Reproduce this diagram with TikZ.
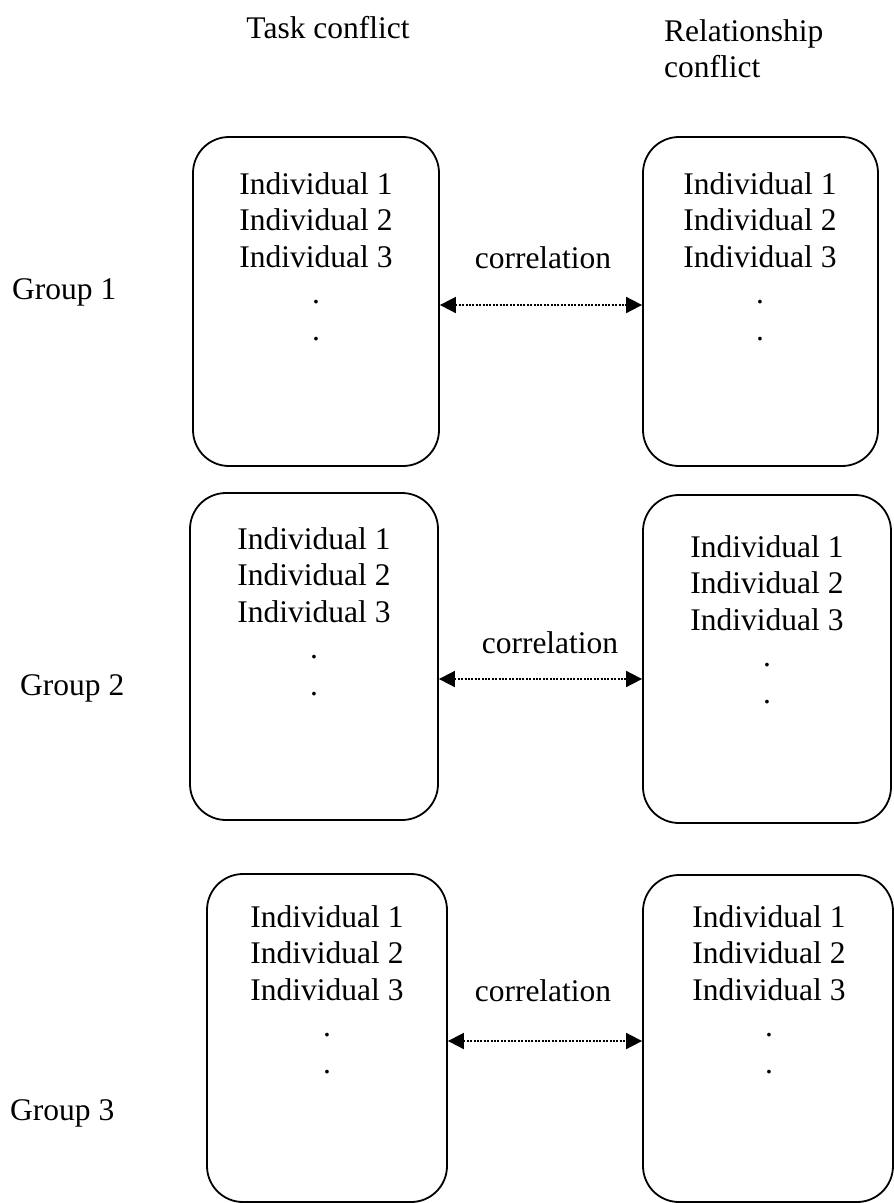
\documentclass[tikz,border=0pt]{standalone}
\usepackage{fontspec}
\setmainfont{Liberation Serif}
\usetikzlibrary{arrows.meta}
\begin{document}
\begin{tikzpicture}[x=1pt,y=-1pt,
  box/.style={draw, line width=1.8pt, rounded corners=36pt, inner sep=0pt},
  txt/.style={anchor=base, inner sep=0pt, font=\fontsize{31.5}{36.5}\selectfont},
  txtw/.style={txt, anchor=base west},
  corr/.style={{Triangle[length=16pt,width=16pt]}-{Triangle[length=16pt,width=16pt]},
    line width=1.8pt, dash pattern=on 2pt off 1.4pt}]
\useasboundingbox (0,0) rectangle (894,1203);

% column headings
\node[txt] (task) at (328,38) {Task conflict};
\node[txtw] (rel1) at (664,41) {Relationship};
\node[txtw] (rel2) at (664,77.5) {conflict};

% group labels
\node[txtw] (g1) at (12,299) {Group 1};
\node[txtw] (g2) at (20,695) {Group 2};
\node[txtw] (g3) at (10,1120) {Group 3};

% boxes
\node[box, minimum width=246pt, minimum height=329pt] (L1) at (316,301.5) {};
\node[box, minimum width=235pt, minimum height=329pt] (R1) at (760.5,301.5) {};
\node[box, minimum width=248pt, minimum height=327pt] (L2) at (314,656.5) {};
\node[box, minimum width=248pt, minimum height=328pt] (R2) at (767,659) {};
\node[box, minimum width=240pt, minimum height=328pt] (L3) at (327,1038) {};
\node[box, minimum width=250pt, minimum height=327pt] (R3) at (768,1038.5) {};

% box contents
\foreach \n/\cx/\by in {L1/316/194, R1/760/194, L2/314/549, R2/767/557, L3/327/927, R3/769/927} {
  \node[txt] (\n-1) at (\cx,\by) {Individual 1};
  \node[txt] (\n-2) at (\cx,\by+36.5) {Individual 2};
  \node[txt] (\n-3) at (\cx,\by+73) {Individual 3};
  \node[txt] (\n-4) at (\cx,\by+109.5) {.};
  \node[txt] (\n-5) at (\cx,\by+146) {.};
}

% correlation arrows
\node[txt] (c1) at (543,268) {correlation};
\node[txt] (c2) at (550,653) {correlation};
\node[txt] (c3) at (543,1001) {correlation};
\draw[corr] (L1.east |- 0,305) -- (R1.west |- 0,305);
\draw[corr] (L2.east |- 0,679) -- (R2.west |- 0,679);
\draw[corr] (L3.east |- 0,1041) -- (R3.west |- 0,1041);
\end{tikzpicture}
\end{document}
